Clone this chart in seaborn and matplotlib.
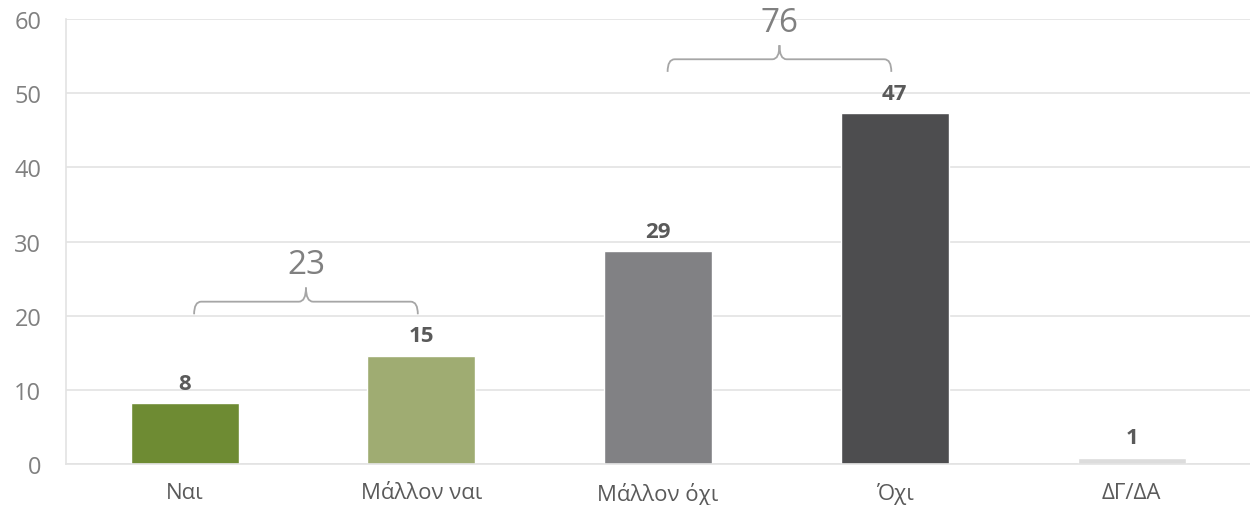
import numpy as np
import pandas as pd
import seaborn as sns
import matplotlib.pyplot as plt
from matplotlib.path import Path
from matplotlib.patches import PathPatch

# --- data ---
categories = ["Ναι", "Μάλλον ναι", "Μάλλον όχι", "Όχι", "ΔΓ/ΔΑ"]
values = [8.2, 14.6, 28.7, 47.3, 0.8]
value_labels = ["8", "15", "29", "47", "1"]
bar_colors = ["#6e8b33", "#9fac72", "#818184", "#4d4d4f", "#dcdcdc"]

# grouped totals shown above braces: (first idx, last idx, label)
groups = [(0, 1, "23"), (2, 3, "76")]

GRID = "#e3e3e3"
TICK_TXT = "#808080"
LABEL_TXT = "#5a5a5a"

sns.set_style("white")
plt.rcParams["font.family"] = ["Open Sans", "DejaVu Sans"]

df = pd.DataFrame({"cat": categories, "val": values})

fig = plt.figure(figsize=(12.5, 5.06), dpi=100)
ax = fig.add_axes([0.053, 0.081, 0.947, 0.879])

sns.barplot(data=df, x="cat", y="val", hue="cat", palette=bar_colors,
            order=categories, hue_order=categories, width=0.456,
            saturation=1, legend=False, ax=ax)

ax.set_ylim(0, 60)
ax.set_xlim(-0.5, len(categories) - 0.5)
ax.set_yticks(np.arange(0, 61, 10))
ax.yaxis.grid(True, color=GRID, linewidth=1.2)
ax.set_axisbelow(True)
ax.set_xlabel("")
ax.set_ylabel("")

for side in ["top", "right"]:
    ax.spines[side].set_visible(False)
for side in ["left", "bottom"]:
    ax.spines[side].set_color(GRID)
    ax.spines[side].set_linewidth(1.2)

# category separators as minor ticks
ax.set_xticks(np.arange(-0.5, len(categories), 1.0), minor=True)
ax.tick_params(axis="x", which="minor", length=6, color=GRID, width=1.2)
ax.tick_params(axis="x", which="major", length=0, pad=13,
               labelsize=16, labelcolor=LABEL_TXT)
ax.tick_params(axis="y", which="major", length=4, color=GRID, width=1.2,
               pad=14, labelsize=17, labelcolor=TICK_TXT)

# value labels on bars
for i, (v, lab) in enumerate(zip(values, value_labels)):
    ax.annotate(lab, (i, v), xytext=(0, 7), textcoords="offset points",
                ha="center", va="bottom", fontsize=16, fontweight="bold",
                color=LABEL_TXT)


def brace(ax, x0, x1, y_end, y_line, y_tip, r=0.03):
    xm = (x0 + x1) / 2
    verts = [
        (x0, y_end), (x0, y_line), (x0 + r, y_line),
        (xm - r, y_line), (xm, y_line), (xm, y_tip),
        (xm, y_line), (xm + r, y_line),
        (x1 - r, y_line), (x1, y_line), (x1, y_end),
    ]
    codes = [
        Path.MOVETO, Path.CURVE3, Path.CURVE3,
        Path.LINETO, Path.CURVE3, Path.CURVE3,
        Path.CURVE3, Path.CURVE3,
        Path.LINETO, Path.CURVE3, Path.CURVE3,
    ]
    patch = PathPatch(Path(verts, codes), facecolor="none",
                      edgecolor="#a6a6a6", linewidth=1.3, clip_on=False)
    ax.add_patch(patch)
    return xm


for (a, b, lab) in groups:
    top = max(values[a], values[b])
    y_line = top + 7.3
    x0, x1 = a + 0.04, b - 0.015
    xm = brace(ax, x0, x1, y_line - 1.7, y_line, y_line + 1.9)
    ax.text(xm, y_line + 5.0, lab, ha="center", va="center",
            fontsize=24, fontweight="medium", color=TICK_TXT, clip_on=False)

fig.savefig("out.png", dpi=100)
